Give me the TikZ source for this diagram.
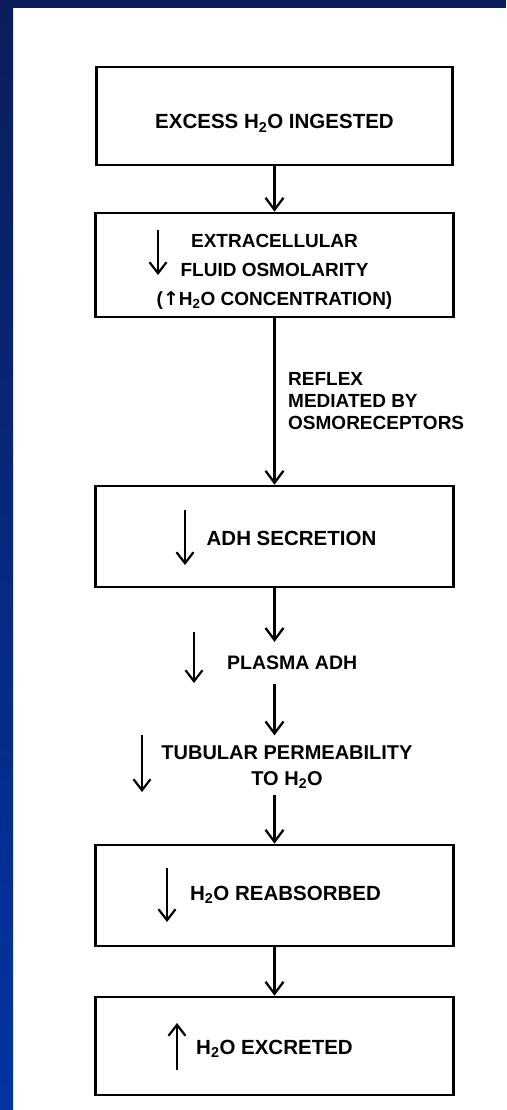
\documentclass[tikz,border=0pt]{standalone}
\usepackage{fontspec}
\setmainfont{Liberation Sans}
\newfontfamily\symfont{DejaVu Sans}
\usetikzlibrary{arrows.meta}
\definecolor{navy}{HTML}{0B1E5B}
\definecolor{slideblue}{HTML}{0034A3}
\begin{document}
\begin{tikzpicture}[x=1pt,y=-1pt,
  box/.style={draw, line width=2.6pt, rectangle, inner sep=0pt, minimum width=358pt,
              font=\bfseries\fontsize{20.5}{29}\selectfont},
  lbl/.style={inner sep=0pt, font=\bfseries\fontsize{19}{22}\selectfont},
  arr/.style={-{Straight Barb[length=12pt,width=18pt]}, line width=2.3pt},
  ind/.style={-{Straight Barb[length=11pt,width=17pt]}, line width=2.2pt}]
% background and slide frame
\fill[white] (0,0) rectangle (506,1110);
\shade[top color=navy, bottom color=slideblue] (0,0) rectangle (13,1110);
\fill[navy] (0,0) rectangle (506,8);
% boxes
\node[box, minimum width=356pt, minimum height=98pt, text height=26pt, text depth=0pt]
  (b1) at (274.5,116) {EXCESS H\textsubscript{2}O INGESTED};
\node[box, minimum height=104pt, align=center, font=\bfseries\fontsize{19}{29}\selectfont]
  (b2) at (274.5,265) {EXTRACELLULAR\rule{0pt}{26pt}\\FLUID OSMOLARITY\\({\symfont\bfseries ↑}H\textsubscript{2}O CONCENTRATION)};
\node[box, minimum height=101pt, text height=17pt, text depth=0pt]
  (b3) at (274.5,536.5) {\hspace*{34pt}ADH SECRETION};
\node[box, minimum height=101pt, text height=9pt, text depth=0pt]
  (b4) at (274.5,895.5) {\hspace*{22pt}H\textsubscript{2}O REABSORBED};
\node[box, minimum height=98pt, text height=16pt, text depth=0pt]
  (b5) at (274.5,1046) {H\textsubscript{2}O EXCRETED};
% free text
\node[lbl, align=left, anchor=north west] (reflex) at (288,372) {REFLEX\\MEDIATED BY\\OSMORECEPTORS};
\node[lbl, anchor=west, inner ysep=14pt, font=\bfseries\fontsize{19.5}{22}\selectfont]
  (plasma) at (227,663) {PLASMA ADH};
\node[lbl, align=center, inner ysep=6pt, font=\bfseries\fontsize{20}{26}\selectfont]
  (tub) at (287,767) {TUBULAR PERMEABILITY\\TO H\textsubscript{2}O};
% connectors
\draw[arr] (b1.south) -- (b1.south |- b2.north);
\draw[arr] (b2.south) -- (b2.south |- b3.north);
\draw[arr] (b3.south) -- (b3.south |- plasma.north);
\draw[arr] (b3.south |- plasma.south) -- ([yshift=4pt]b3.south |- tub.north);
\draw[arr] (b3.south |- tub.south) -- (b4.north);
\draw[arr] (b4.south) -- (b5.north);
% direction indicators
\draw[ind] (158,230) -- (158,275);
\draw[ind] (185,510) -- (185,565);
\draw[ind] (194,632) -- (194,683);
\draw[ind] (142,735) -- (142,792);
\draw[ind] (167,868) -- (167,922);
\draw[ind] (177,1070) -- (177,1023);
\end{tikzpicture}
\end{document}
